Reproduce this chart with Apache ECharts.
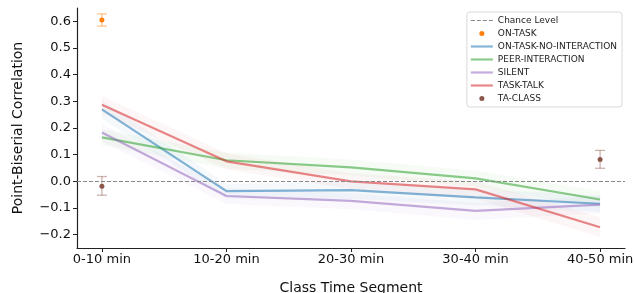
<!DOCTYPE html>
<html lang="en">
<head>
<meta charset="utf-8">
<title>Point-Biserial Correlation by Class Time Segment</title>
<script src="https://cdn.jsdelivr.net/npm/echarts@6/dist/echarts.min.js"></script>
<style>
  html, body { margin: 0; padding: 0; background: #fff; }
  #chart { width: 634px; height: 293px; }
</style>
</head>
<body>
<div id="chart"></div>
<script>
// segments on x
var segments = ['0-10 min', '10-20 min', '20-30 min', '30-40 min', '40-50 min'];
var yTicks = [-0.2, -0.1, 0.0, 0.1, 0.2, 0.3, 0.4, 0.5, 0.6];

// line series (mean) and their confidence bands
var noInteraction      = [0.270, -0.037, -0.033, -0.060, -0.084];
var noInteractionHigh  = [0.305, -0.010, 0.000, -0.030, -0.052];
var noInteractionLow   = [0.235, -0.065, -0.066, -0.090, -0.115];

var peer      = [0.165, 0.079, 0.052, 0.011, -0.068];
var peerHigh  = [0.195, 0.108, 0.082, 0.040, -0.035];
var peerLow   = [0.135, 0.048, 0.022, -0.020, -0.100];

var silent      = [0.183, -0.055, -0.073, -0.111, -0.087];
var silentHigh  = [0.215, -0.025, -0.045, -0.080, -0.055];
var silentLow   = [0.150, -0.085, -0.105, -0.145, -0.120];

var taskTalk      = [0.287, 0.075, 0.000, -0.030, -0.172];
var taskTalkHigh  = [0.320, 0.105, 0.030, 0.000, -0.135];
var taskTalkLow   = [0.255, 0.045, -0.030, -0.065, -0.210];

// point estimates with error bars: [xIndex, value, low, high]
var onTask  = [[0, 0.605, 0.582, 0.628]];
var taClass = [[0, -0.018, -0.052, 0.018], [4, 0.082, 0.049, 0.116]];

var chart = echarts.init(document.getElementById('chart'));

function toPts(arr) {
  return arr.map(function (v, i) { return [i, v]; });
}

function fmt(v) {
  var s = Math.abs(v).toFixed(1);
  return v < -1e-9 ? '\u2212' + s : s;
}

function bandSeries(name, high, low, color) {
  return {
    type: 'custom',
    name: name + ' band',
    silent: true,
    z: 1,
    data: [[0, 0]],
    renderItem: function (params, api) {
      var pts = [];
      for (var i = 0; i < high.length; i++) pts.push(api.coord([i, high[i]]));
      for (var j = low.length - 1; j >= 0; j--) pts.push(api.coord([j, low[j]]));
      return {
        type: 'polygon',
        shape: { points: pts },
        style: { fill: color, opacity: 0.045 }
      };
    }
  };
}

function lineSeries(name, data, color) {
  return {
    type: 'line',
    name: name,
    data: toPts(data),
    showSymbol: false,
    z: 3,
    lineStyle: { color: color, width: 2.2, opacity: 0.55 },
    itemStyle: { color: color }
  };
}

function errSeries(name, data, color) {
  return {
    type: 'custom',
    name: name + ' err',
    silent: true,
    z: 4,
    data: data,
    renderItem: function (params, api) {
      var x = api.value(0);
      var lo = api.coord([x, api.value(2)]);
      var hi = api.coord([x, api.value(3)]);
      var w = 5;
      return {
        type: 'group',
        children: [
          { type: 'line', shape: { x1: lo[0], y1: lo[1], x2: hi[0], y2: hi[1] }, style: { stroke: color, lineWidth: 1.3 } },
          { type: 'line', shape: { x1: lo[0] - w, y1: lo[1], x2: lo[0] + w, y2: lo[1] }, style: { stroke: color, lineWidth: 1.3 } },
          { type: 'line', shape: { x1: hi[0] - w, y1: hi[1], x2: hi[0] + w, y2: hi[1] }, style: { stroke: color, lineWidth: 1.3 } }
        ]
      };
    }
  };
}

function dotSeries(name, data, color) {
  return {
    type: 'scatter',
    name: name,
    data: data.map(function (d) { return [d[0], d[1]]; }),
    symbolSize: 5,
    z: 5,
    itemStyle: { color: color, opacity: 1 }
  };
}

var linePath = 'path://M0,0L22,0L22,2.2L0,2.2Z';
var dashPath = 'path://M0,0L4,0L4,1.2L0,1.2ZM6,0L10,0L10,1.2L6,1.2ZM12,0L16,0L16,1.2L12,1.2ZM18,0L22,0L22,1.2L18,1.2Z';

var option = {
  animation: false,
  textStyle: { fontFamily: 'DejaVu Sans' },
  grid: { left: 77, right: 9, top: 8, bottom: 45, containLabel: false, outerBoundsMode: 'none' },
  legend: {
    orient: 'vertical',
    right: 12,
    top: 12,
    padding: [4, 5, 4, 4],
    itemWidth: 22,
    itemHeight: 5,
    itemGap: 4,
    borderColor: '#d8d8d8',
    borderWidth: 1,
    borderRadius: 3,
    backgroundColor: 'rgba(255,255,255,0.85)',
    textStyle: { fontSize: 9, color: '#222', fontFamily: 'DejaVu Sans', padding: [0, 0, 0, 0] },
    data: [
      { name: 'Chance Level', icon: dashPath, itemStyle: { color: '#888' } },
      { name: 'ON-TASK', icon: 'circle', itemStyle: { color: '#ff7f0e' } },
      { name: 'ON-TASK-NO-INTERACTION', icon: linePath, itemStyle: { color: 'rgba(31,119,180,0.55)' } },
      { name: 'PEER-INTERACTION', icon: linePath, itemStyle: { color: 'rgba(44,160,44,0.55)' } },
      { name: 'SILENT', icon: linePath, itemStyle: { color: 'rgba(148,103,189,0.55)' } },
      { name: 'TASK-TALK', icon: linePath, itemStyle: { color: 'rgba(214,39,40,0.55)' } },
      { name: 'TA-CLASS', icon: 'circle', itemStyle: { color: '#8c564b' } }
    ]
  },
  xAxis: {
    type: 'value',
    min: -0.2,
    max: 4.2,
    name: 'Class Time Segment',
    nameLocation: 'middle',
    nameGap: 33,
    nameTextStyle: { fontSize: 14, color: '#111' },
    splitLine: { show: false },
    axisLine: { onZero: false, lineStyle: { color: '#222', width: 1.2 } },
    axisTick: { show: true, length: 4, customValues: [0, 1, 2, 3, 4], lineStyle: { color: '#222' } },
    axisLabel: {
      customValues: [0, 1, 2, 3, 4],
      fontSize: 13,
      color: '#111',
      margin: 5,
      formatter: function (v) { return segments[Math.round(v)]; }
    }
  },
  yAxis: {
    type: 'value',
    min: -0.25,
    max: 0.65,
    name: 'Point-Biserial Correlation',
    nameLocation: 'middle',
    nameGap: 52,
    nameTextStyle: { fontSize: 14, color: '#111' },
    splitLine: { show: false },
    axisLine: { show: true, onZero: false, lineStyle: { color: '#222', width: 1.2 } },
    axisTick: { show: true, length: 4, customValues: yTicks, lineStyle: { color: '#222' } },
    axisLabel: {
      customValues: yTicks,
      fontSize: 13,
      color: '#111',
      margin: 6,
      formatter: fmt
    }
  },
  series: [
    {
      type: 'line',
      name: 'Chance Level',
      data: [],
      itemStyle: { color: '#888' },
      lineStyle: { color: '#888', type: 'dashed' },
      markLine: {
        silent: true,
        symbol: 'none',
        label: { show: false },
        lineStyle: { color: '#888', type: [4, 2], width: 1 },
        data: [{ yAxis: 0 }]
      }
    },
    bandSeries('ON-TASK-NO-INTERACTION', noInteractionHigh, noInteractionLow, '#1f77b4'),
    bandSeries('PEER-INTERACTION', peerHigh, peerLow, '#2ca02c'),
    bandSeries('SILENT', silentHigh, silentLow, '#9467bd'),
    bandSeries('TASK-TALK', taskTalkHigh, taskTalkLow, '#d62728'),
    errSeries('ON-TASK', onTask, 'rgba(255,127,14,0.45)'),
    dotSeries('ON-TASK', onTask, '#ff7f0e'),
    lineSeries('ON-TASK-NO-INTERACTION', noInteraction, '#1f77b4'),
    lineSeries('PEER-INTERACTION', peer, '#2ca02c'),
    lineSeries('SILENT', silent, '#9467bd'),
    lineSeries('TASK-TALK', taskTalk, '#d62728'),
    errSeries('TA-CLASS', taClass, 'rgba(140,86,75,0.45)'),
    dotSeries('TA-CLASS', taClass, '#8c564b')
  ]
};

chart.setOption(option);
</script>
</body>
</html>
